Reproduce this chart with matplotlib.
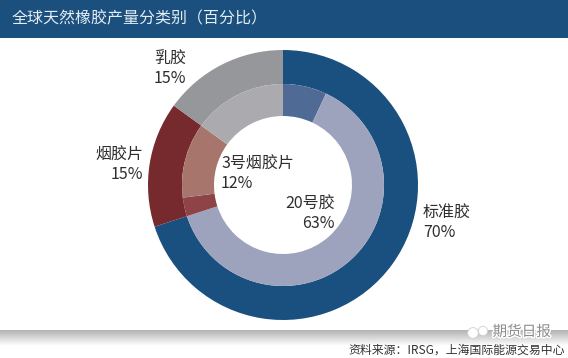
import numpy as np
import matplotlib
matplotlib.use("Agg")
import matplotlib.pyplot as plt
import matplotlib.patheffects as pe

plt.rcParams['font.family'] = ['Noto Sans CJK SC', 'DejaVu Sans']

# 外圈
outer_names = ["标准胶", "烟胶片", "乳胶"]
outer_values = [70, 15, 15]
outer_colors = ["#19507f", "#762a2e", "#96979b"]

# 内圈
inner_names = ["其他标准胶", "20号胶", "其他烟胶片", "3号烟胶片", "乳胶"]
inner_values = [7, 63, 3, 12, 15]
inner_colors = ["#4f6a94", "#9da3bc", "#8e4446", "#a8756d", "#ababaf"]

title = "全球天然橡胶产量分类别（百分比）"
source = "资料来源：IRSG，上海国际能源交易中心"
watermark = "期货日报"

fig = plt.figure(figsize=(5.68, 3.58), dpi=100, facecolor="white")
ax = fig.add_axes([0, 0, 1, 1])

# 圆环
cx, cy = 283, 358 - 185
ax.pie(outer_values, colors=outer_colors, startangle=90, counterclock=False,
       center=(cx, cy), radius=135, frame=True,
       wedgeprops={"width": 34, "linewidth": 0})
ax.pie(inner_values, colors=inner_colors, startangle=90, counterclock=False,
       center=(cx, cy), radius=101, frame=True,
       wedgeprops={"width": 32, "linewidth": 0})
ax.axis("off")

# 顶部标题栏
ax.fill_between([0, 568], 358 - 37.5, 358, color="#1a4f7e", linewidth=0)
ax.text(12, 358 - 19, title, color="#e4edf3", fontsize=11.5, ha="left", va="center")

# 底部灰色渐变，上深下浅
shade = np.linspace(0.30, 0, 40).reshape(-1, 1)
ax.imshow(shade, extent=(0, 568, 358 - 346, 358 - 330), aspect="auto", cmap="gray_r",
          vmin=0, vmax=1, zorder=1, interpolation="bilinear", origin="upper")
ax.set_xlim(0, 568)
ax.set_ylim(0, 358)
ax.set_aspect("auto")

label_color = "#2e2e2e"
def label(x, y, txt, ha):
    ax.text(x, 358 - y, txt, color=label_color, fontsize=11.5, ha=ha, va="center",
            linespacing=1.15, zorder=3)

label(154, 69, f"{outer_names[2]}\n{outer_values[2]}%", "left")
label(143, 165, f"{outer_names[1]}\n{outer_values[1]}%", "right")
label(423, 223, f"{outer_names[0]}\n{outer_values[0]}%", "left")
label(221, 174, f"{inner_names[3]}\n{inner_values[3]}%", "left")
label(335, 214, f"{inner_names[1]}\n{inner_values[1]}%", "right")

ax.text(565, 358 - 350, source, color="#333333", fontsize=8.55, ha="right", va="center", zorder=3)

# 水印
ax.text(551, 358 - 332, watermark, color="#8c8c8c", fontsize=10.5, ha="right", va="center", zorder=3,
        path_effects=[pe.withStroke(linewidth=2, foreground="white")])
ax.scatter([473, 483], [358 - 333, 358 - 331], s=[60, 45], color="white", edgecolors="#cfcfcf",
           linewidths=0.6, zorder=3)

fig.savefig("out.png", dpi=100, facecolor="white")
